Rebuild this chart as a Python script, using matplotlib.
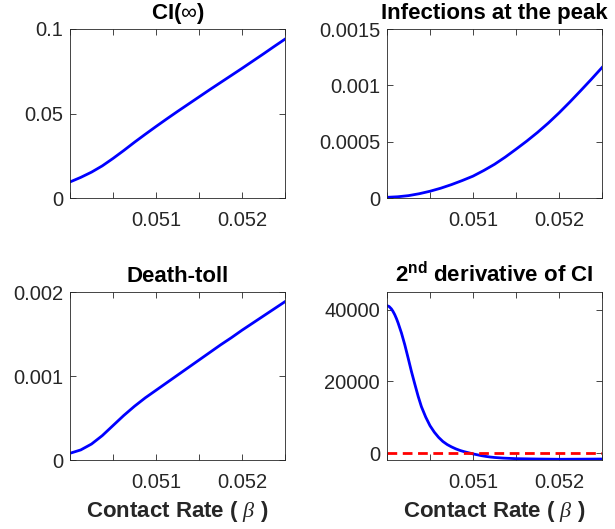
import matplotlib
matplotlib.use('Agg')

import matplotlib.pyplot as plt

plt.rcParams['font.family'] = ['Liberation Sans', 'DejaVu Sans']
plt.rcParams['mathtext.fontset'] = 'custom'
plt.rcParams['mathtext.rm'] = 'Liberation Sans'
plt.rcParams['mathtext.bf'] = 'Liberation Sans:bold'
plt.rcParams['mathtext.it'] = 'Liberation Serif:italic'

# contact rate grid
beta = [0.05, 0.050125, 0.05025, 0.050375, 0.0505, 0.050625, 0.05075,
        0.050875, 0.051, 0.051125, 0.05125, 0.051375, 0.0515, 0.051625,
        0.05175, 0.051875, 0.052, 0.052125, 0.05225, 0.052375, 0.0525]

ci_inf = [0.0095, 0.0122, 0.0153, 0.0190, 0.0234, 0.0281, 0.0330,
          0.0377, 0.0423, 0.0468, 0.0512, 0.0555, 0.0598, 0.0641,
          0.0683, 0.0725, 0.0767, 0.0810, 0.0853, 0.0897, 0.0940]
peak_inf = [0.000006, 0.000011, 0.000021, 0.000038, 0.00006, 0.000087,
            0.000119, 0.000155, 0.000194, 0.000244, 0.000299, 0.000363,
            0.000433, 0.000505, 0.000582, 0.000665, 0.000755, 0.000851,
            0.000951, 0.001053, 0.001158]
death_toll = [0.00008, 0.00012, 0.00019, 0.00029, 0.00041, 0.00053,
              0.00064, 0.00074, 0.00083, 0.00092, 0.00101, 0.0011,
              0.00119, 0.00128, 0.00137, 0.001455, 0.001545, 0.00163,
              0.001715, 0.0018, 0.001885]

# 2nd derivative of CI, finer grid near the drop
beta_d2 = [0.05, 0.050025, 0.050051, 0.05007, 0.05009, 0.05011, 0.050129,
           0.050168, 0.050207, 0.050246, 0.050284, 0.050323, 0.050362,
           0.0504, 0.05045, 0.0505, 0.05055, 0.0506, 0.05065, 0.0507,
           0.05075, 0.0508, 0.05085, 0.0509, 0.05095, 0.051, 0.05105,
           0.0511, 0.05115, 0.0512, 0.05125, 0.05135, 0.0515, 0.05175,
           0.052, 0.05225, 0.0525]
d2_ci = [41100, 40850, 40200, 39500, 38600, 37500, 36300, 33500, 30200,
         26500, 22800, 19300, 15900, 13000, 10100, 7700, 5900, 4450, 3300,
         2450, 1800, 1250, 800, 450, 150, -150, -400, -650, -850, -1020,
         -1150, -1320, -1480, -1580, -1650, -1620, -1580]

x_ticks = [0.05, 0.0505, 0.051, 0.0515, 0.052, 0.0525]
x_labels = ['', '', '0.051', '', '0.052', '']

fig = plt.figure(figsize=(6.15, 5.29), dpi=100)

W, H = 615.0, 529.0
boxes = [(70, 29, 285, 198), (387, 29, 602, 198),
         (70, 292, 285, 460), (387, 292, 602, 460)]


def make_axes(box):
    l, t, r, b = box
    ax = fig.add_axes([l / W, 1 - b / H, (r - l) / W, (b - t) / H])
    ax.set_xlim(0.05, 0.0525)
    ax.set_xticks(x_ticks)
    ax.set_xticklabels(x_labels)
    ax.tick_params(direction='in', top=True, right=True, length=4,
                   width=0.6, colors='0.15', labelsize=14.5)
    ax.tick_params(axis='x', pad=9.5)
    ax.tick_params(axis='y', pad=5)
    for s in ax.spines.values():
        s.set_color('0.15')
        s.set_linewidth(0.6)
    return ax


title_kw = dict(fontsize=16, fontweight='bold', pad=7)
xlabel_kw = dict(fontsize=16, fontweight='bold', color='0.15', labelpad=5)

ax1 = make_axes(boxes[0])
ax1.plot(beta, ci_inf, color='blue', lw=2)
ax1.set_ylim(0, 0.1)
ax1.set_yticks([0, 0.05, 0.1])
ax1.set_yticklabels(['0', '0.05', '0.1'])
ax1.set_title(r'CI($\infty$)', **title_kw)

ax2 = make_axes(boxes[1])
ax2.plot(beta, peak_inf, color='blue', lw=2)
ax2.set_ylim(0, 0.0015)
ax2.set_yticks([0, 0.0005, 0.001, 0.0015])
ax2.set_yticklabels(['0', '0.0005', '0.001', '0.0015'])
ax2.set_title('Infections at the peak', **title_kw)

ax3 = make_axes(boxes[2])
ax3.plot(beta, death_toll, color='blue', lw=2)
ax3.set_ylim(0, 0.002)
ax3.set_yticks([0, 0.001, 0.002])
ax3.set_yticklabels(['0', '0.001', '0.002'])
ax3.set_title('Death-toll', **title_kw)
ax3.set_xlabel(r'Contact Rate ( $\beta$ )', **xlabel_kw)

ax4 = make_axes(boxes[3])
ax4.plot(beta_d2, d2_ci, color='blue', lw=2)
ax4.axhline(0, color='red', lw=2, ls=(0, (3.5, 2)))
ax4.set_ylim(-1850, 44900)
ax4.set_yticks([0, 20000, 40000])
ax4.set_yticklabels(['0', '20000', '40000'])
ax4.set_title(r'$\mathbf{2^{nd}}$ derivative of CI', **title_kw)
ax4.set_xlabel(r'Contact Rate ( $\beta$ )', **xlabel_kw)

fig.savefig('out.png', dpi=100)
